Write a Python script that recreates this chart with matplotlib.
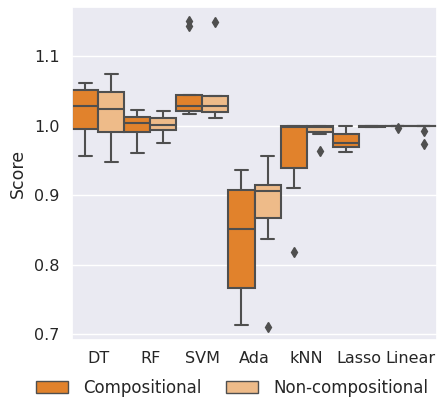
import matplotlib
matplotlib.use("Agg")
import matplotlib.pyplot as plt
import seaborn as sns
from matplotlib.patches import Patch

sns.set_theme(style="darkgrid")
plt.rcParams['font.family'] = ['DejaVu Sans']

categories = ["DT", "RF", "SVM", "Ada", "kNN", "Lasso", "Linear"]
groups = ["Compositional", "Non-compositional"]

# per-group box statistics (one value per category)
comp_whislo = [0.957, 0.961, 1.017, 0.714, 0.910, 0.963, 0.9995]
comp_q1     = [0.995, 0.991, 1.022, 0.7665, 0.940, 0.970, 0.9998]
comp_med    = [1.029, 1.004, 1.028, 0.851, 0.998, 0.976, 0.9999]
comp_q3     = [1.051, 1.013, 1.045, 0.908, 1.000, 0.9885, 1.0]
comp_whishi = [1.061, 1.0235, 1.045, 0.936, 1.000, 1.000, 1.0]
comp_fliers = [[], [], [1.151, 1.144], [], [0.819], [], [0.997]]

non_whislo = [0.948, 0.975, 1.012, 0.838, 0.989, 0.998, 0.9995]
non_q1     = [0.991, 0.994, 1.020, 0.867, 0.9915, 0.9985, 0.9998]
non_med    = [1.0245, 1.001, 1.028, 0.907, 0.999, 0.9995, 0.9999]
non_q3     = [1.049, 1.0115, 1.0435, 0.9147, 1.000, 1.000, 1.0]
non_whishi = [1.075, 1.022, 1.0435, 0.957, 1.000, 1.000, 1.0]
non_fliers = [[], [], [1.149], [0.711], [0.964], [], [0.993, 0.974]]

comp_color = "#E1822C"
non_color = "#EEBB89"
line_gray = "#4f4f4f"

fig = plt.figure(figsize=(4.38, 3.99), dpi=100)
ax = fig.add_axes([72/438, 1-340/399, (437-72)/438, (340-7)/399])

def stats(whislo, q1, med, q3, whishi, fliers):
    return [dict(whislo=a, q1=b, med=c, q3=d, whishi=e, fliers=f)
            for a, b, c, d, e, f in zip(whislo, q1, med, q3, whishi, fliers)]

common = dict(widths=0.5, capwidths=0.25, patch_artist=True, showfliers=True,
              boxprops=dict(edgecolor=line_gray, linewidth=1.5),
              whiskerprops=dict(color=line_gray, linewidth=1.5),
              capprops=dict(color=line_gray, linewidth=1.5),
              medianprops=dict(color=line_gray, linewidth=1.5),
              flierprops=dict(marker='d', markerfacecolor=line_gray,
                              markeredgecolor=line_gray, markersize=5))

n = len(categories)
b1 = ax.bxp(stats(comp_whislo, comp_q1, comp_med, comp_q3, comp_whishi, comp_fliers),
            positions=[i - 0.25 for i in range(n)], **common)
b2 = ax.bxp(stats(non_whislo, non_q1, non_med, non_q3, non_whishi, non_fliers),
            positions=[i + 0.25 for i in range(n)], **common)
for p in b1['boxes']:
    p.set_facecolor(comp_color)
for p in b2['boxes']:
    p.set_facecolor(non_color)

ax.set_xlim(-0.5, n - 0.5)
ax.set_ylim(0.692, 1.171)
ax.set_xticks(range(n))
ax.set_xticklabels(categories, fontsize=11.5)
ax.set_yticks([0.7, 0.8, 0.9, 1.0, 1.1])
ax.set_yticklabels(["0.7", "0.8", "0.9", "1.0", "1.1"], fontsize=11.5)
ax.tick_params(axis='y', length=0, pad=9)
ax.tick_params(axis='x', length=0, pad=8)
ax.grid(axis='x', visible=False)
ax.set_ylabel("Score", fontsize=12.5, labelpad=5)

handles = [Patch(facecolor=comp_color, edgecolor=line_gray, label=groups[0]),
           Patch(facecolor=non_color, edgecolor=line_gray, label=groups[1])]
fig.legend(handles=handles, loc='center', ncol=2, frameon=False,
           fontsize=12, bbox_to_anchor=(0.53, 1 - 388/399),
           handlelength=1.9, handletextpad=0.9, columnspacing=1.5)

fig.savefig("out.png", dpi=100)
